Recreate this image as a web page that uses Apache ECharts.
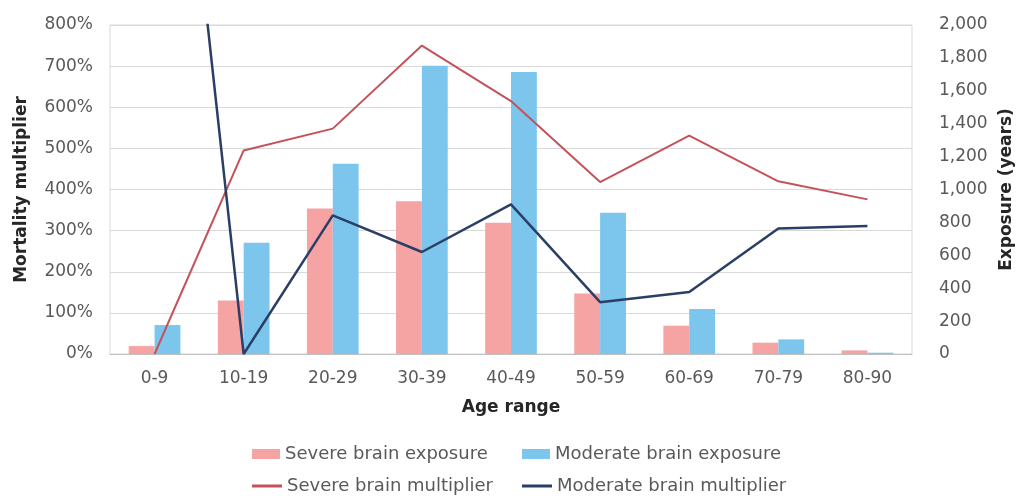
<!DOCTYPE html>
<html>
<head>
<meta charset="utf-8">
<script src="https://cdn.jsdelivr.net/npm/echarts@6/dist/echarts.min.js"></script>
<style>
html,body{margin:0;padding:0;background:#fff;}
#chart{width:1032px;height:504px;}
</style>
</head>
<body>
<div id="chart"></div>
<script>
var categories = ['0-9','10-19','20-29','30-39','40-49','50-59','60-69','70-79','80-90'];
var severeExposure = [48, 325, 885, 929, 798, 368, 172, 69, 22];
var moderateExposure = [176, 677, 1156, 1752, 1715, 859, 273, 89, 8];
var severeMultiplier = [0, 495, 548, 750, 615, 418, 531, 420, 376];
var moderateMultiplier = [1980, 0, 337, 248, 364, 126, 151, 305, 311];
var leftTicks = [0, 100, 200, 300, 400, 500, 600, 700, 800];
var rightTicks = [0, 200, 400, 600, 800, 1000, 1200, 1400, 1600, 1800, 2000];

var FONT = 'DejaVu Sans';
var chart = echarts.init(document.getElementById('chart'), null, {renderer: 'canvas'});
var legendText = {fontFamily: FONT, fontSize: 18, color: '#595959'};
function mkLegend(name, left, top, isLine) {
  return {
    data: [{name: name, icon: 'rect'}], left: left, top: top, padding: 0,
    itemWidth: isLine ? 30 : 28, itemHeight: isLine ? 3 : 10, itemGap: 0,
    textStyle: legendText, selectedMode: false
  };
}
chart.setOption({
  animation: false,
  backgroundColor: '#ffffff',
  grid: {left: 110, right: 120, top: 25, bottom: 150, show: true, borderColor: '#D9D9D9', borderWidth: 1},
  legend: [
    mkLegend('Severe brain exposure', 252, 445, false),
    mkLegend('Moderate brain exposure', 522, 445, false),
    mkLegend('Severe brain multiplier', 252, 477, true),
    mkLegend('Moderate brain multiplier', 522, 477, true)
  ],
  xAxis: {
    type: 'category', data: categories,
    name: 'Age range', nameLocation: 'middle', nameGap: 45,
    nameTextStyle: {fontFamily: FONT, fontSize: 17, fontWeight: 'bold', color: '#262626'},
    axisLine: {lineStyle: {color: '#BFBFBF'}},
    axisTick: {show: false},
    axisLabel: {fontFamily: FONT, fontSize: 17, color: '#595959', margin: 16}
  },
  yAxis: [
    {
      type: 'value', min: 0, max: 800, interval: 100, position: 'left',
      name: 'Mortality multiplier', nameLocation: 'middle', nameGap: 80, nameRotate: 90,
      nameTextStyle: {fontFamily: FONT, fontSize: 17, fontWeight: 'bold', color: '#262626'},
      axisLine: {show: false}, axisTick: {show: false},
      axisLabel: {fontFamily: FONT, fontSize: 17, color: '#595959', margin: 17,
        formatter: function (v) { return v + '%'; }},
      splitLine: {lineStyle: {color: '#D9D9D9', width: 1}}
    },
    {
      type: 'value', min: 0, max: 2000, interval: 200, position: 'right',
      name: 'Exposure (years)', nameLocation: 'middle', nameGap: 84, nameRotate: 90,
      nameTextStyle: {fontFamily: FONT, fontSize: 17, fontWeight: 'bold', color: '#262626'},
      axisLine: {show: false}, axisTick: {show: false},
      axisLabel: {fontFamily: FONT, fontSize: 17, color: '#595959', margin: 27,
        formatter: function (v) { return v.toLocaleString('en-US'); }},
      splitLine: {show: false}
    }
  ],
  series: [
    {name: 'Severe brain exposure', type: 'bar', yAxisIndex: 1, data: severeExposure,
      barGap: '0%', barCategoryGap: '42%', itemStyle: {color: '#F5A3A3'}},
    {name: 'Moderate brain exposure', type: 'bar', yAxisIndex: 1, data: moderateExposure,
      barGap: '0%', barCategoryGap: '42%', itemStyle: {color: '#7CC6EE'}},
    {name: 'Severe brain multiplier', type: 'line', yAxisIndex: 0, data: severeMultiplier,
      symbol: 'none', clip: true, lineStyle: {color: '#C4525A', width: 2}, itemStyle: {color: '#C4525A'}},
    {name: 'Moderate brain multiplier', type: 'line', yAxisIndex: 0, data: moderateMultiplier,
      symbol: 'none', clip: true, lineStyle: {color: '#2B3F66', width: 2.5}, itemStyle: {color: '#2B3F66'}}
  ]
});
</script>
</body>
</html>
